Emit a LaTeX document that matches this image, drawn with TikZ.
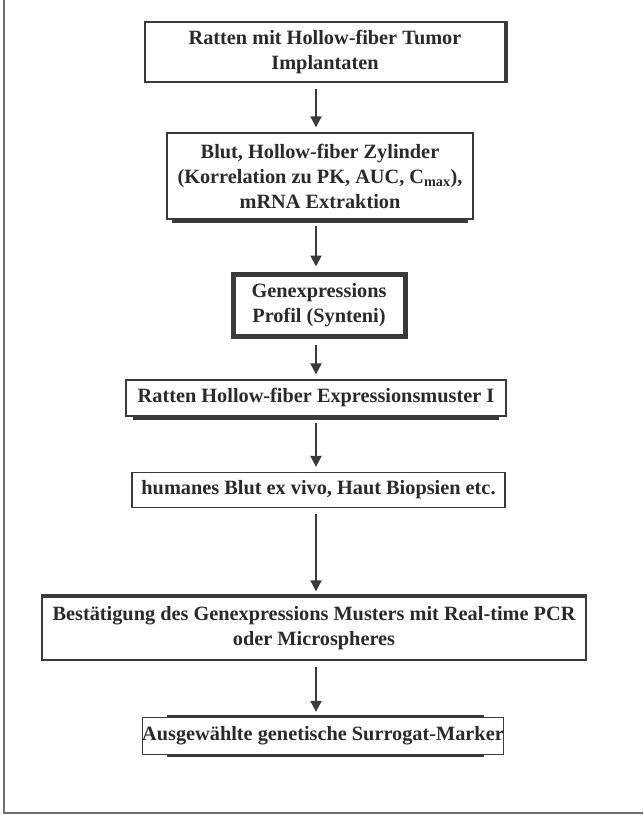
\documentclass[tikz,border=0pt]{standalone}
\usepackage{fontspec}
\setmainfont{Liberation Serif}
\usetikzlibrary{arrows.meta,calc}
\definecolor{linec}{HTML}{3A3A3A}
\definecolor{textc}{HTML}{2A2A2A}
\definecolor{framec}{HTML}{707070}
\begin{document}
\begin{tikzpicture}[x=1pt,y=-1pt,
  box/.style={draw=linec, line width=1.3pt, fill=white, align=center,
    font=\fontsize{20.3}{25}\selectfont\bfseries, text=textc, inner sep=0pt},
  thickbox/.style={box, line width=5pt},
  arr/.style={draw=linec, line width=2pt, -{Triangle[length=11pt,width=11pt]},
    shorten <=6pt, shorten >=5pt},
  shadowline/.style={draw=linec, line width=2.4pt}]
\useasboundingbox (0,0) rectangle (643,821);
% outer frame (left and bottom edges)
\coordinate (ftop) at (4,0);
\coordinate (fcorner) at (4,813);
\coordinate (fright) at (643,813);
\draw[framec, line width=1.5pt] (ftop) -- (fcorner) -- (fright);
% axis for arrows
\coordinate (ax) at (316,0);
% boxes
\node[box, minimum width=360pt, minimum height=60pt] (b1) at (325,52)
  {Ratten mit Hollow-fiber Tumor\\Implantaten};
\node[box, minimum width=306pt, minimum height=86pt] (b2) at (320,176)
  {Blut, Hollow-fiber Zylinder\\(Korrelation zu PK, AUC, C\textsubscript{max}),\\mRNA Extraktion};
\node[thickbox, minimum width=172pt, minimum height=62pt] (b3) at (319,305)
  {Genexpressions\\Profil (Synteni)};
\node[box, minimum width=380pt, minimum height=36pt] (b4) at (316,398)
  {Ratten Hollow-fiber Expressionsmuster I};
\node[box, minimum width=373pt, minimum height=35pt] (b5) at (318.5,490)
  {humanes Blut ex vivo, Haut Biopsien etc.};
\node[box, minimum width=544pt, minimum height=63pt] (b6) at (314,628.5)
  {Bestätigung des Genexpressions Musters mit Real-time PCR\\oder Microspheres};
\node[box, minimum width=304pt, minimum height=37pt] (b7) at (323,736)
  {Ausgewählte genetische Surrogat-Marker};
% scan-like heavier edges
\draw[linec, line width=3.5pt] ($(b1.north east)+(1,0)$) -- ($(b1.south east)+(1,0)$);
\draw[shadowline] ($(b2.south west)+(6,2)$) -- ($(b2.south east)+(-6,2)$);
\draw[shadowline] ($(b4.south west)+(8,2)$) -- ($(b4.south east)+(-8,2)$);
\draw[shadowline] ($(b6.north west)+(0,-1)$) -- ($(b6.north east)+(0,-1)$);
\draw[shadowline] ($(b7.north west)+(25,-1)$) -- ($(b7.north east)+(-20,-1)$);
\draw[shadowline] ($(b7.south west)+(25,1)$) -- ($(b7.south east)+(-20,1)$);
% arrows
\draw[arr] (b1.south -| ax) -- (b2.north -| ax);
\draw[arr] (b2.south -| ax) -- (b3.north -| ax);
\draw[arr] (b3.south -| ax) -- (b4.north -| ax);
\draw[arr] (b4.south -| ax) -- (b5.north -| ax);
\draw[arr] (b5.south -| ax) -- (b6.north -| ax);
\draw[arr] (b6.south -| ax) -- (b7.north -| ax);
\end{tikzpicture}
\end{document}
